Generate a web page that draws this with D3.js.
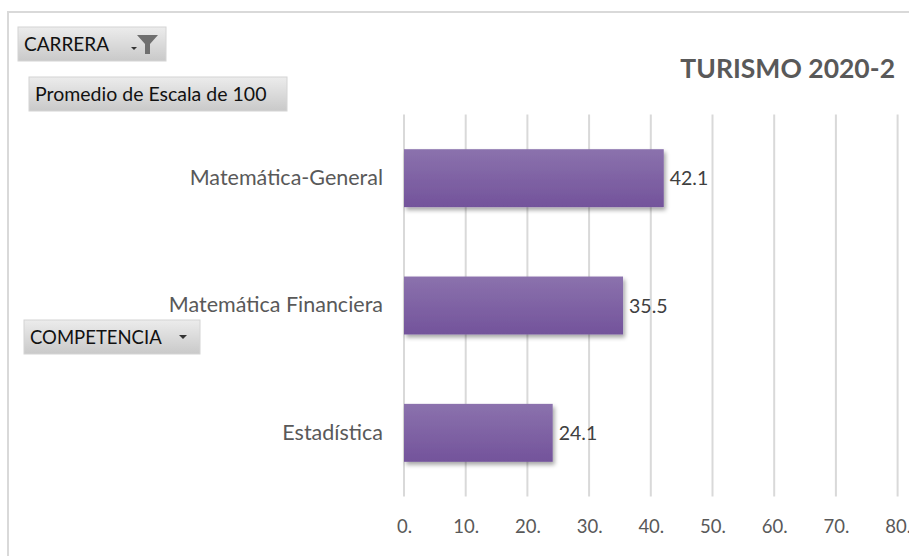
<!DOCTYPE html>
<html>
<head>
<meta charset="utf-8">
<script src="https://cdn.jsdelivr.net/npm/d3@7"></script>
<style>
  body { margin: 0; background: #fff; }
  svg { display: block; font-family: Lato, "Open Sans", sans-serif; }
</style>
</head>
<body>
<svg id="main" width="909" height="556"></svg>
<script>
const categories = ["Matemática-General", "Matemática Financiera", "Estadística"];
const values = [42.1, 35.5, 24.1];
const tickValues = [0, 10, 20, 30, 40, 50, 60, 70, 80];
const tickLabels = ["0.", "10.", "20.", "30.", "40.", "50.", "60.", "70.", "80."];
const title = "TURISMO 2020-2";

const svg = d3.select('#main');
const defs = svg.append('defs');

// bar gradient + shadow
const barGrad = defs.append('linearGradient')
    .attr('id', 'barGrad').attr('x1', 0).attr('y1', 0).attr('x2', 0).attr('y2', 1);
barGrad.append('stop').attr('offset', '0%').attr('stop-color', '#8b72ad');
barGrad.append('stop').attr('offset', '100%').attr('stop-color', '#73539b');

const btnGrad = defs.append('linearGradient')
    .attr('id', 'btnGrad').attr('x1', 0).attr('y1', 0).attr('x2', 0).attr('y2', 1);
btnGrad.append('stop').attr('offset', '0%').attr('stop-color', '#ececec');
btnGrad.append('stop').attr('offset', '100%').attr('stop-color', '#c9c9c9');

const shadow = defs.append('filter').attr('id', 'shadow')
    .attr('x', '-10%').attr('y', '-20%').attr('width', '130%').attr('height', '150%');
shadow.append('feDropShadow')
    .attr('dx', 2).attr('dy', 3).attr('stdDeviation', 2)
    .attr('flood-color', '#000').attr('flood-opacity', 0.35);

// chart area border (only top and left visible)
svg.append('path')
    .attr('d', 'M8,556 V12 H909')
    .attr('fill', 'none')
    .attr('stroke', '#d9d9d9')
    .attr('stroke-width', 2);

const x = d3.scaleLinear().domain([0, 80]).range([404, 897.6]);
const y = d3.scaleBand().domain(categories).range([114.5, 496.5])
    .paddingInner(0.545).paddingOuter(0.2725);

// gridlines
svg.append('g')
    .selectAll('line')
    .data(tickValues)
    .enter()
    .append('line')
    .attr('x1', d => x(d)).attr('x2', d => x(d))
    .attr('y1', 114.5).attr('y2', 496.5)
    .attr('stroke', '#d9d9d9')
    .attr('stroke-width', 2);

// x axis labels (the last one runs off the edge, as in the original)
const xAxis = svg.append('g')
    .attr('transform', 'translate(0,' + 496.5 + ')')
    .call(d3.axisBottom(x).tickValues(tickValues)
        .tickFormat((d, i) => tickLabels[i]).tickSize(0).tickPadding(23));
xAxis.select('.domain').remove();
xAxis.selectAll('text')
    .attr('font-family', 'Lato, sans-serif')
    .attr('font-size', 18.5)
    .attr('fill', '#595959');

// y axis labels
const yAxis = svg.append('g')
    .attr('transform', 'translate(' + 404 + ',0)')
    .call(d3.axisLeft(y).tickSize(0).tickPadding(21));
yAxis.select('.domain').remove();
yAxis.selectAll('text')
    .attr('font-family', 'Lato, sans-serif')
    .attr('font-size', 21.5)
    .attr('fill', '#595959');

// bars
svg.append('g')
    .selectAll('rect')
    .data(values)
    .enter()
    .append('rect')
    .attr('x', x(0))
    .attr('y', (d, i) => y(categories[i]))
    .attr('width', d => x(d) - x(0))
    .attr('height', y.bandwidth())
    .attr('fill', 'url(#barGrad)')
    .attr('filter', 'url(#shadow)');

// data labels
svg.append('g')
    .selectAll('text')
    .data(values)
    .enter()
    .append('text')
    .attr('x', d => x(d) + 6)
    .attr('y', (d, i) => y(categories[i]) + y.bandwidth() / 2)
    .attr('dy', '0.37em')
    .attr('font-size', 19.5)
    .attr('fill', '#404040')
    .text(d => d.toFixed(1));

// title
svg.append('text')
    .attr('x', 895)
    .attr('y', 78)
    .attr('text-anchor', 'end')
    .attr('font-size', 26.5)
    .attr('font-weight', 'bold')
    .attr('fill', '#595959')
    .text(title);

// pivot field buttons
function button(bx, by, w, label, size, icon) {
    const g = svg.append('g').attr('transform', 'translate(' + bx + ',' + by + ')');
    g.append('rect')
        .attr('width', w).attr('height', 34)
        .attr('fill', 'url(#btnGrad)')
        .attr('stroke', '#d4d4d4');
    g.append('text')
        .attr('x', 6).attr('y', 24)
        .attr('font-size', size)
        .attr('fill', '#111')
        .text(label);
    if (icon === 'filter') {
        g.append('path')
            .attr('d', 'M113,20 h6 l-3,3 z')
            .attr('fill', '#333');
        g.append('path')
            .attr('d', 'M119,8 h21 l-8,9 v10 h-5 v-10 z')
            .attr('fill', '#6f6f6f');
    } else if (icon === 'drop') {
        g.append('path')
            .attr('d', 'M' + (w - 21) + ',15 h8 l-4,4 z')
            .attr('fill', '#333');
    }
}
button(18, 27, 148, 'CARRERA', 19, 'filter');
button(29, 77, 258, 'Promedio de Escala de 100', 19.5, null);
button(24, 320, 176, 'COMPETENCIA', 18.5, 'drop');
</script>
</body>
</html>
